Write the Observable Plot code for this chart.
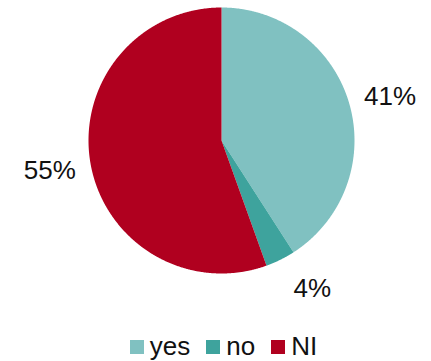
<!DOCTYPE html>
<html>
<head>
<meta charset="utf-8">
<script src="https://cdn.jsdelivr.net/npm/d3@7"></script>
<script src="https://cdn.jsdelivr.net/npm/@observablehq/plot@0.6"></script>
<style>
  body { margin: 0; background: #fff; font-family: "Liberation Sans", Arial, sans-serif; }
  #chart { width: 431px; }
  #legend { display: flex; justify-content: center; margin-top: 10px; margin-left: 16px; color: #111; }
  #legend [class*="-swatch"] { margin-right: 16px; }
  #legend [class*="-swatch"]:last-child { margin-right: 0; }
  #legend [class*="-swatch"] > svg { margin-right: 6px; }
</style>
</head>
<body>
<div id="chart"></div>
<script>
const categories = ["yes", "no", "NI"];
const values = [40.9, 3.6, 55.5];
const labels = ["41%", "4%", "55%"];
const colors = ["#80c1c1", "#3ea39d", "#b0001f"];

const data = categories.map((c, i) => ({key: c, value: values[i], label: labels[i]}));
const arcs = d3.pie().sort(null).value(d => d.value)(data);

// polygon outline for each slice (unit circle, angle clockwise from top)
const pts = [];
for (const a of arcs) {
  pts.push({key: a.data.key, x: 0, y: 0});
  const n = Math.max(2, Math.ceil((a.endAngle - a.startAngle) / 0.005));
  for (let k = 0; k <= n; k++) {
    const t = a.startAngle + (a.endAngle - a.startAngle) * k / n;
    pts.push({key: a.data.key, x: Math.sin(t), y: Math.cos(t)});
  }
  pts.push({key: a.data.key, x: 0, y: 0});
}

const labelR = 1.31;
const labelPts = arcs.map(a => {
  let mid = (a.startAngle + a.endAngle) / 2;
  if (a.endAngle - a.startAngle < 0.4) mid -= 0.09; // nudge small slice label
  else if (mid < Math.PI) mid += 0.03;
  return {label: a.data.label, x: labelR * Math.sin(mid), y: labelR * Math.cos(mid)};
});

const plot = Plot.plot({
  width: 431,
  height: 320,
  marginLeft: 88,
  marginRight: 77,
  marginTop: 7,
  marginBottom: 47,
  x: {domain: [-1, 1], axis: null},
  y: {domain: [-1, 1], axis: null},
  color: {domain: categories, range: colors},
  style: {fontFamily: "Liberation Sans, Arial, sans-serif", overflow: "visible"},
  marks: [
    Plot.line(pts, {x: "x", y: "y", z: "key", fill: "key", stroke: null}),
    Plot.text(labelPts, {x: "x", y: "y", text: "label", fontSize: 26, fill: "#111"})
  ]
});

const legend = Plot.legend({
  legend: "swatches",
  color: {domain: categories, range: colors},
  swatchSize: 14,
  style: {fontSize: "26px", fontFamily: "Liberation Sans, Arial, sans-serif", color: "#111"}
});
legend.id = "legend";
legend.style.fontSize = "26px";
legend.querySelectorAll("*").forEach(el => { if (!(el instanceof SVGElement)) el.style.fontSize = "26px"; });

const chart = document.getElementById("chart");
chart.appendChild(plot);
chart.appendChild(legend);
</script>
</body>
</html>
